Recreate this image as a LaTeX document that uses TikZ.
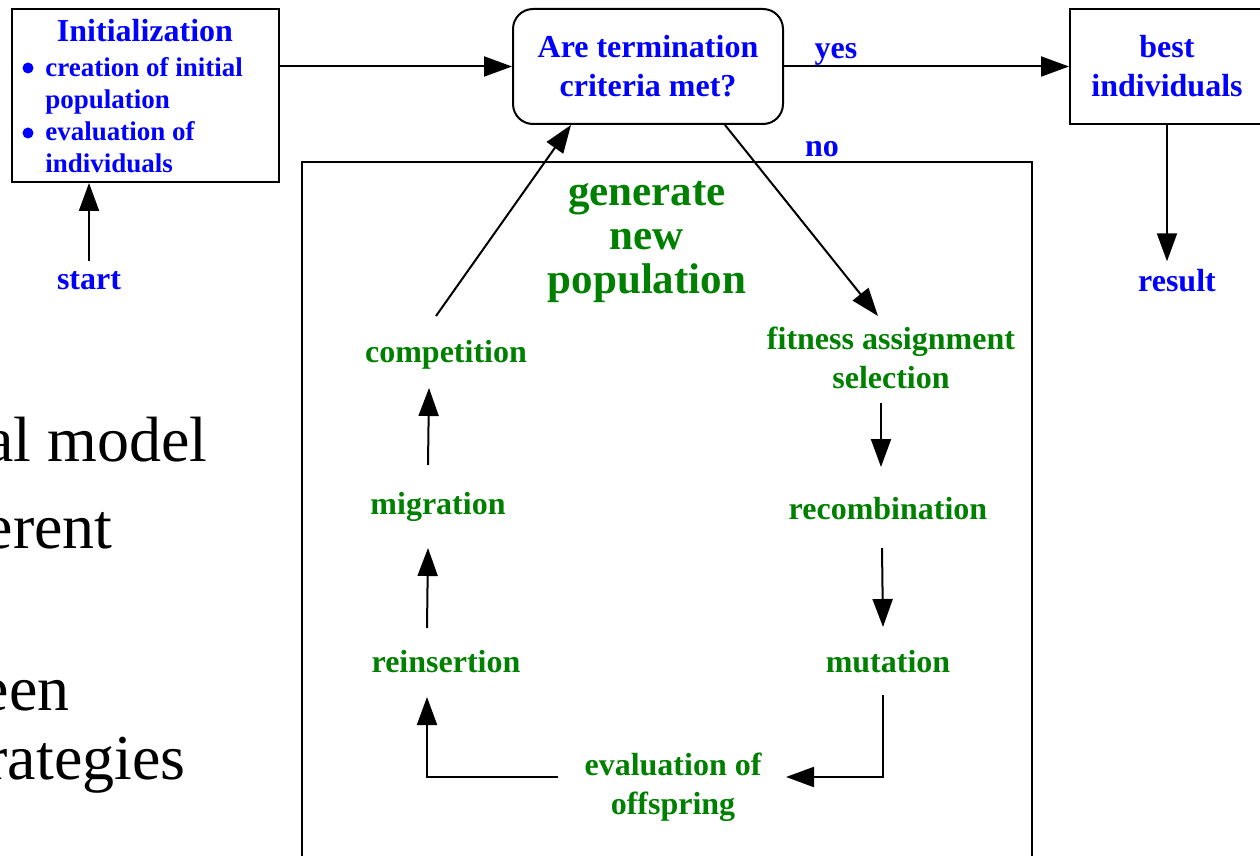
\documentclass[tikz,border=0pt]{standalone}
\usepackage{fontspec}
\setmainfont{Liberation Serif}
\usetikzlibrary{arrows.meta}
\definecolor{tblue}{RGB}{0,0,255}
\definecolor{tgreen}{RGB}{0,128,0}
\begin{document}
\begin{tikzpicture}[x=0.5pt,y=-0.5pt,
  lbl/.style={font=\fontsize{16pt}{19.5pt}\selectfont\bfseries, inner sep=0pt, align=center},
  bl/.style={lbl,text=tblue},
  gr/.style={lbl,text=tgreen},
  small/.style={font=\fontsize{13.5pt}{16pt}\selectfont\bfseries, inner sep=0pt, text=tblue},
  bullet/.style={circle, fill=tblue, inner sep=0pt, minimum size=5.5pt},
  big/.style={font=\fontsize{32pt}{36pt}\selectfont, inner sep=0pt, anchor=base east},
  arr/.style={-{Triangle[length=14pt,width=10pt]}, line width=1pt},
  box/.style={draw, line width=1pt, inner sep=0pt}]
\useasboundingbox (0,0) rectangle (1260,856);

% background slide text (clipped at the left edge, as in the reference)
\node[big] (t1) at (208,461) {al model};
\node[big] (t2) at (113,548) {erent};
\node[big] (t3) at (70,710) {een};
\node[big] (t4) at (186,779) {rategies};

% boxes
\node[box, minimum width=133.5pt, minimum height=86.5pt] (init) at (145.5,95.5) {};
\node[bl] (title) at (145,31) {Initialization};
\node[small, anchor=west, align=left] (list) at (45,115.5) {creation of initial\\population\\evaluation of\\individuals};
\node[bullet] (bul1) at (28,68) {};
\node[bullet] (bul2) at (28,133) {};
\node[bl] (start) at (89,281) {start};

\node[box, rounded corners=10pt, minimum width=135pt, minimum height=57.5pt, bl, draw=black] (term) at (648,66.5) {Are termination\\criteria met?};
\node[box, minimum width=97pt, minimum height=57.5pt, bl, draw=black] (best) at (1167,66.5) {best\\individuals};
\node[bl] (yes) at (836,54) {yes};
\node[bl] (no) at (822,149) {no};
\node[bl] (result) at (1177,281) {result};

\node[box, minimum width=365pt, minimum height=369pt] (frame) at (667,531) {};
\node[gr, font=\fontsize{21.5pt}{22pt}\selectfont\bfseries] (gen) at (647,242) {generate\\new\\population};
\node[gr] (fitsel) at (891,358) {fitness assignment\\selection};
\node[gr] (rec) at (888,509) {recombination};
\node[gr] (mut) at (888,662) {mutation};
\node[gr] (evo) at (673,787) {evaluation of\\offspring};
\node[gr] (rein) at (446,662) {reinsertion};
\node[gr] (mig) at (438,507) {migration};
\node[gr] (comp) at (446,355) {competition};

% connectors
\draw[arr] (init.east |- term.west) -- (term.west);
\draw[arr] (term.east) -- (best.west);
\draw[arr, shorten <=5pt] (start.north) -- (start.north |- init.south);
\draw[arr, shorten >=4pt] (best.south) -- (best.south |- result.north);
\draw[arr] ([xshift=38.5pt]term.south) -- ([shift={(-13,-42)}]fitsel.center);
\draw[arr] ([shift={(-10,45)}]fitsel.center) -- ([shift={(-7,-42)}]rec.center);
\draw[arr] ([shift={(-6,39)}]rec.center) -- ([shift={(-5,-35)}]mut.center);
\draw[arr] ([shift={(-5,33)}]mut.center) |- ([shift={(113,-10)}]evo.center);
\draw[arr] ([shift={(-115,-10)}]evo.center) -| ([shift={(-19,35)}]rein.center);
\draw[arr] ([shift={(-19,-34)}]rein.center) -- ([shift={(-10,41)}]mig.center);
\draw[arr] ([shift={(-10,-42)}]mig.center) -- ([shift={(-17,33)}]comp.center);
\draw[arr] ([shift={(-10,-39)}]comp.center) -- ([xshift=-38.5pt]term.south);
\end{tikzpicture}
\end{document}
